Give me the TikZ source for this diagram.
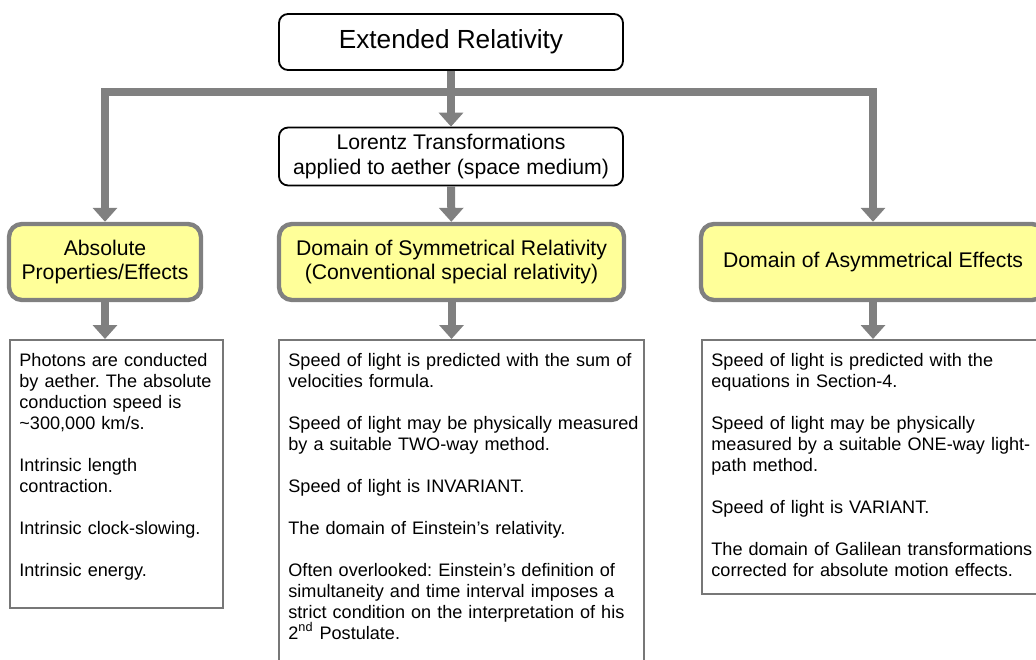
\documentclass[tikz,border=0pt]{standalone}
\usepackage{fontspec}
\setmainfont{Liberation Sans}
\usetikzlibrary{arrows.meta}
\definecolor{connGray}{HTML}{808080}
\definecolor{boxGray}{HTML}{777777}
\definecolor{domYellow}{HTML}{FFFF99}
\frenchspacing

\begin{document}
\begin{tikzpicture}[x=0.5pt,y=-0.5pt,
    topbox/.style={draw=black,line width=0.9pt,rounded corners=4.5pt,minimum width=172pt,align=center,font=\fontsize{10.6}{12.4}\selectfont},
    dombox/.style={draw=connGray,line width=2.2pt,fill=domYellow,rounded corners=6.5pt,minimum height=38pt,align=center,font=\fontsize{10.6}{12}\selectfont},
    notebox/.style={draw=boxGray,line width=0.9pt,anchor=north west,inner sep=0pt},
    notetext/.style={anchor=base west,align=left,inner sep=0pt,text width=#1,font=\fontsize{9.05}{10.5}\selectfont},
    conn/.style={draw=connGray,line width=4pt,line join=miter,-{Triangle[length=7pt,width=12pt]}}]
    \path[use as bounding box,clip] (0,0) rectangle (1036,659);
    % top of the tree
    \node[topbox,minimum height=28pt,font=\fontsize{13.1}{15}\selectfont] (ext) at (451,42) {Extended Relativity};
    \node[topbox,minimum height=27.8pt] (lor) at (451,156.5) {Lorentz Transformations\\applied to aether (space medium)};
    % the three domains
    \node[dombox,minimum width=96pt] (abs) at (105,262) {Absolute\\Properties/Effects};
    \node[dombox,minimum width=172.5pt] (sym) at (451.5,262) {Domain of Symmetrical Relativity\\(Conventional special relativity)};
    \node[dombox,minimum width=172pt] (asym) at (873,262) {Domain of Asymmetrical Effects};
    % note boxes
    \node[notebox,minimum width=106.5pt,minimum height=134pt] (tl) at (9,339) {};
    \node[notebox,minimum width=182.5pt,minimum height=170.5pt] (tm) at (278,339) {};
    \node[notebox,minimum width=172pt,minimum height=127pt] (tr) at (701,339) {};
    \node[notetext=110pt] (tltext) at ([shift={(10,27)}]tl.north west) {Photons are conducted\\by aether. The absolute\\conduction speed is\\\textasciitilde300,000 km/s.\\[10.5pt]Intrinsic length\\contraction.\\[10.5pt]Intrinsic clock-slowing.\\[10.5pt]Intrinsic energy.};
    \node[notetext=190pt] (tmtext) at ([shift={(10,27)}]tm.north west) {Speed of light is predicted with the sum of\\velocities formula.\\[10.5pt]Speed of light may be physically measured\\by a suitable TWO-way method.\\[10.5pt]Speed of light is INVARIANT.\\[10.5pt]The domain of Einstein’s relativity.\\[10.5pt]Often overlooked: Einstein’s definition of\\simultaneity and time interval imposes a\\strict condition on the interpretation of his\\2\textsuperscript{nd} Postulate.};
    \node[notetext=180pt] (trtext) at ([shift={(10,27)}]tr.north west) {Speed of light is predicted with the\\equations in Section-4.\\[10.5pt]Speed of light may be physically\\measured by a suitable ONE-way light-\\path method.\\[10.5pt]Speed of light is VARIANT.\\[10.5pt]The domain of Galilean transformations\\corrected for absolute motion effects.};
    % connectors
    \coordinate (bar) at (451,92);
    \draw[conn] (ext) -- (lor);
    \draw[conn,{Triangle[length=7pt,width=12pt]}-{Triangle[length=7pt,width=12pt]}] (abs.north) |- (bar) -| (asym.north);
    \draw[conn] (lor) -- (sym);
    \foreach \d/\t in {abs/tl,sym/tm,asym/tr}
    \draw[conn] (\d.south) -- (\d.south |- \t.north);
\end{tikzpicture}
\end{document}
